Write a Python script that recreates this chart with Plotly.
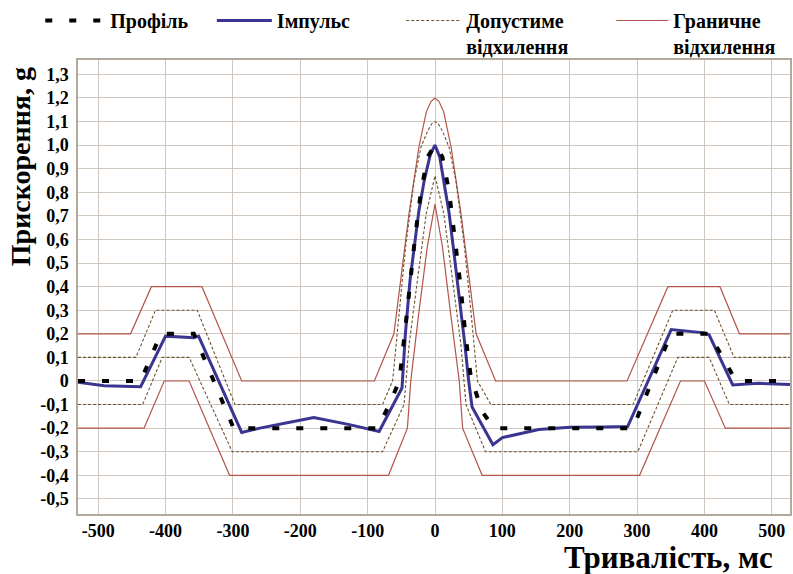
import plotly.graph_objects as go

# ---------------- data ----------------
x_ticks = [-500, -400, -300, -200, -100, 0, 100, 200, 300, 400, 500]
x_tick_labels = ["-500", "-400", "-300", "-200", "-100", "0", "100", "200", "300", "400", "500"]
y_ticks = [-0.5, -0.4, -0.3, -0.2, -0.1, 0, 0.1, 0.2, 0.3, 0.4, 0.5, 0.6, 0.7,
           0.8, 0.9, 1.0, 1.1, 1.2, 1.3]
y_tick_labels = ["-0,5", "-0,4", "-0,3", "-0,2", "-0,1", "0", "0,1", "0,2", "0,3",
                 "0,4", "0,5", "0,6", "0,7", "0,8", "0,9", "1,0", "1,1", "1,2", "1,3"]

# Profile (black dashed)
profile_t = [-530, -437, -407, -358, -299, -85, -68, -53, -45, -38, -30, -21, -11, 0,
             11, 21, 30, 38, 45, 53, 70, 88, 294, 350, 407, 447, 527]
profile_g = [0, 0, 0.2, 0.2, -0.2, -0.2, -0.1, 0.0, 0.2, 0.4, 0.6, 0.8, 0.95, 1.0,
             0.95, 0.8, 0.6, 0.4, 0.2, 0.02, -0.13, -0.2, -0.2, 0.2, 0.2, 0, 0]

# Impulse (blue)
impulse_t = [-530, -491, -437, -400, -358, -351, -287, -260, -210, -180, -127, -83,
             -49, -44, -37, -30, -24, -16, -7, 0, 7, 14, 21, 27, 33, 39, 44.5, 50, 55,
             86, 100, 154, 200, 250, 286, 350.6, 400, 407, 442, 480, 527]
impulse_g = [-0.005, -0.02, -0.024, 0.19, 0.183, 0.19, -0.218, -0.2, -0.172, -0.155,
             -0.185, -0.214, -0.03, 0.2, 0.43, 0.6, 0.72, 0.85, 0.96, 1.0, 0.95, 0.83,
             0.71, 0.57, 0.43, 0.28, 0.15, 0.0, -0.11, -0.27, -0.24, -0.206, -0.196,
             -0.195, -0.193, 0.218, 0.204, 0.195, -0.017, -0.01, -0.015]

# Allowed deviation (brown dashed), upper and lower
allow_up_t = [-530, -444, -415, -353, -297, -78, -63, -53.5, -43.6, -31, -21, -11, -5, 0,
              5, 11, 21, 31, 43.6, 53.5, 63, 83, 294, 353, 414.8, 444, 527]
allow_up_g = [0.1, 0.1, 0.3, 0.3, -0.1, -0.1, 0, 0.29, 0.57, 0.85, 0.99, 1.06, 1.09, 1.1,
              1.09, 1.06, 0.99, 0.85, 0.57, 0.29, 0, -0.1, -0.1, 0.3, 0.3, 0.1, 0.1]
allow_lo_t = [-530, -434, -405, -365, -301, -78, -46, -38.6, -26, -13, 0, 13, 26, 38.6,
              46, 75, 301, 360.5, 407, 437, 527]
allow_lo_g = [-0.1, -0.1, 0.1, 0.1, -0.3, -0.3, -0.1, 0.15, 0.43, 0.71, 0.87, 0.71,
              0.43, 0.15, -0.1, -0.3, -0.3, 0.1, 0.1, -0.1, -0.1]

# Limit deviation (red), upper and lower
limit_up_t = [-530, -452, -421, -346, -287, -90, -61, -51, -38.6, -24, -13, -6, 0, 6, 13,
              24, 38.6, 51, 61, 90, 285, 345.7, 423, 452, 527]
limit_up_g = [0.2, 0.2, 0.4, 0.4, 0, 0, 0.2, 0.43, 0.71, 0.99, 1.14, 1.185, 1.2, 1.185,
              1.14, 0.99, 0.71, 0.43, 0.2, 0, 0, 0.4, 0.4, 0.2, 0.2]
limit_lo_t = [-530, -432, -402, -365, -305, -69, -41, -36, -24, -11.4, 0, 11, 23, 36,
              41, 70, 303.7, 364.4, 400, 431, 527]
limit_lo_g = [-0.2, -0.2, 0, 0, -0.4, -0.4, -0.2, 0.0, 0.29, 0.57, 0.75, 0.57, 0.29,
              0.0, -0.2, -0.4, -0.4, 0, 0, -0.2, -0.2]

# ---------------- styles ----------------
SERIF = "Liberation Serif"
RED = "#b4544a"
BROWN = "#6e5230"
BLUE = "#3b3592"
GRID = "#d0c7be"
BORDER = "#b3a89c"

fig = go.Figure()

fig.add_trace(go.Scatter(x=limit_up_t, y=limit_up_g, mode="lines", name="Граничне<br>відхилення",
                         line=dict(color=RED, width=1.2), legend="legend4",
                         legendgroup="lim"))
fig.add_trace(go.Scatter(x=limit_lo_t, y=limit_lo_g, mode="lines", showlegend=False,
                         line=dict(color=RED, width=1.2), legendgroup="lim"))
fig.add_trace(go.Scatter(x=allow_up_t, y=allow_up_g, mode="lines", name="Допустиме<br>відхилення",
                         line=dict(color=BROWN, width=1.1, dash="3px,2px"), legend="legend3",
                         legendgroup="allow"))
fig.add_trace(go.Scatter(x=allow_lo_t, y=allow_lo_g, mode="lines", showlegend=False,
                         line=dict(color=BROWN, width=1.1, dash="3px,2px"), legendgroup="allow"))
fig.add_trace(go.Scatter(x=impulse_t, y=impulse_g, mode="lines", name="Імпульс",
                         line=dict(color=BLUE, width=3), legend="legend2"))
fig.add_trace(go.Scatter(x=profile_t, y=profile_g, mode="lines", name="Профіль",
                         line=dict(color="black", width=4, dash="7px,17px"), legend="legend"))

legend_font = dict(family=SERIF, size=20, color="black", weight="bold")
common_leg = dict(orientation="h", yanchor="top", xanchor="left", y=1.13,
                  font=legend_font, bgcolor="rgba(0,0,0,0)", borderwidth=0,
                  valign="top", itemclick=False, itemdoubleclick=False)

fig.update_layout(
    width=793, height=574,
    margin=dict(l=78, r=1, t=60, b=60),
    paper_bgcolor="white", plot_bgcolor="white",
    showlegend=True,
    legend=dict(x=-0.053, itemwidth=60, **common_leg),
    legend2=dict(x=0.188, itemwidth=55, **common_leg),
    legend3=dict(x=0.454, itemwidth=55, **common_leg),
    legend4=dict(x=0.749, itemwidth=52, **common_leg),
    xaxis=dict(range=[-530, 527], tickvals=x_ticks, ticktext=x_tick_labels,
               showgrid=True, gridcolor=GRID, gridwidth=1, zeroline=False,
               showline=True, linecolor=BORDER, linewidth=1.5, mirror=True,
               ticks="", ticklabelstandoff=0,
               tickfont=dict(family=SERIF, size=18, color="black", weight="bold")),
    yaxis=dict(range=[-0.564, 1.361], tickvals=y_ticks, ticktext=y_tick_labels,
               showgrid=True, gridcolor=GRID, gridwidth=1, zeroline=False,
               showline=True, linecolor=BORDER, linewidth=1.5, mirror=True,
               ticks="", ticklabelstandoff=4,
               tickfont=dict(family=SERIF, size=18, color="black", weight="bold")),
    annotations=[
        dict(text="Прискорення, g", xref="paper", yref="paper",
             x=(20 - 78) / 714, y=(514 - 167) / 454, xanchor="center", yanchor="middle",
             textangle=-90, showarrow=False,
             font=dict(family=SERIF, size=28, color="black", weight="bold")),
        dict(text="Тривалість, мс", xref="paper", yref="paper",
             x=(777 - 78) / 714, y=(514 - 557) / 454, xanchor="right", yanchor="middle",
             showarrow=False,
             font=dict(family=SERIF, size=31, color="black", weight="bold")),
    ],
)

fig.write_html("out.html", config={"displayModeBar": False},
               post_script="document.body.style.margin='0';document.body.style.padding='0';")
